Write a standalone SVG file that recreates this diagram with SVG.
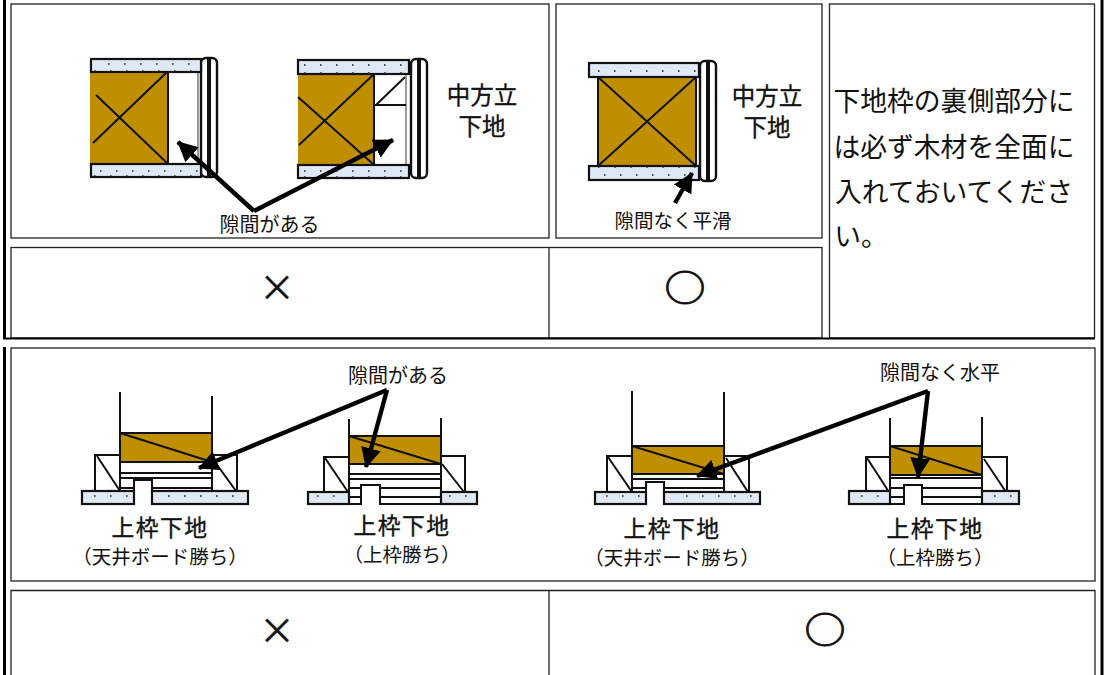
<svg xmlns="http://www.w3.org/2000/svg" width="1105" height="675" viewBox="0 0 1105 675">
<style>
text{font-family:"Noto Sans CJK JP","Liberation Sans",sans-serif;fill:#111;text-anchor:middle}
.cell{fill:#fff;stroke:#222;stroke-width:1.300}
.div{stroke:#222;stroke-width:1.300;fill:none}
.edge{stroke:#000;stroke-width:3;fill:none}
.rule{stroke:#000;stroke-width:2;fill:none}
.board{fill:#dfe9f5;stroke:#111;stroke-width:2.200}
.dots{stroke:#222;stroke-width:1.600;stroke-dasharray:1.600 14.400;fill:none}
.wood{fill:#bf8f00;stroke:#111;stroke-width:2}
.ln{stroke:#111;stroke-width:2;fill:none}
.box{fill:#fff;stroke:#111;stroke-width:2}
.frame{fill:#fff;stroke:#111;stroke-width:2.400}
.stripe{fill:#111}
.arrow{stroke:#000;stroke-width:4.400;fill:none;marker-end:url(#ah)}
.t1{font-size:23.500px;stroke:#111;stroke-width:.35}
.t6{font-size:22.800px;letter-spacing:1.500px;stroke:#111;stroke-width:.35}
.t2{font-size:20px}
.t3{font-size:19.500px}
.t4{font-size:26.800px}
.t5{font-size:36px;stroke:#111;stroke-width:.4}
.t7{font-size:41px;stroke:#111;stroke-width:1}
</style>
<defs>
<marker id="ah" markerUnits="userSpaceOnUse" markerWidth="24" markerHeight="22" refX="19" refY="10" orient="auto"><path d="M0 0L20 10L0 20Z" fill="#000"/></marker>
</defs>
<rect width="1105" height="675" fill="#fff"/>
<g id="table">
<path class="edge" d="M4.500 0V339M4.500 347V675M1102 0V675"/>
<rect class="cell" x="11" y="4" width="538" height="234"/>
<rect class="cell" x="556" y="4" width="266" height="234"/>
<rect class="cell" x="829.500" y="4" width="265" height="334"/>
<rect class="cell" x="11" y="247.500" width="811" height="90.500"/>
<path class="div" d="M549 247.500V338"/>
<path class="rule" d="M3 338.500H1095"/>
<rect class="cell" x="11" y="348" width="1084" height="233"/>
<path class="div" d="M11 676V590.500H1095V676M549 590.500V676"/>
</g>
<g id="mullion-ng-1">
<rect class="frame" x="201" y="58" width="16" height="119" rx="5"/><rect class="stripe" x="207" y="58" width="4" height="119"/>
<rect x="90" y="72" width="78" height="92" fill="#bf8f00"/><path class="ln" d="M168 72V164"/>
<rect x="169" y="72" width="29" height="92" fill="#fff"/><path d="M198 72V164" stroke="#777" stroke-width="1.500"/>
<rect class="board" x="91" y="59" width="110" height="13"/><rect class="board" x="91" y="164" width="110" height="13"/>
<path class="dots" d="M108 64H200M94 71H200M100 171H200M94 176H200"/>
<path class="ln" d="M167 72L93 143M96 95L167 163"/>
</g>
<g id="mullion-ng-2">
<rect class="frame" x="411" y="59" width="16" height="119" rx="5"/><rect class="stripe" x="417" y="59" width="4" height="119"/>
<rect x="298" y="74" width="76" height="91" fill="#bf8f00"/><path class="ln" d="M374 74V165"/>
<path d="M406 74V165" stroke="#777" stroke-width="1.500"/>
<path class="ln" d="M374 105H406M376 105L405 77"/>
<rect class="board" x="298" y="60" width="111" height="14"/><rect class="board" x="298" y="165" width="111" height="13"/>
<path class="dots" d="M304 65H408M304 73H408M304 171H408M304 177H408"/>
<path class="ln" d="M374 74L299 145M298 97L373 164"/>
</g>
<g id="mullion-ok">
<rect class="frame" x="700" y="61" width="16" height="120" rx="5"/><rect class="stripe" x="706" y="61" width="4" height="120"/>
<rect class="wood" x="598" y="77" width="98" height="89"/>
<rect class="board" x="589" y="63" width="110" height="14"/><rect class="board" x="589" y="166" width="110" height="14"/>
<path class="dots" d="M598 71H698M598 167H698M604 175H690"/>
<path class="ln" d="M598 77L696 166M696 77L598 166"/>
</g>
<g id="head-ng-1">
<path class="ln" d="M120 392V433M212 396V433"/>
<rect class="box" x="95" y="455" width="25" height="36"/><rect class="box" x="212" y="455" width="25" height="36"/>
<path class="ln" d="M97 456L120 491M215 462L236 491"/>
<rect class="box" x="120" y="462" width="92" height="29"/>
<path class="ln" d="M120 473H212M120 478H212M120 488H134M152 488H212"/>
<rect class="wood" x="120" y="433" width="92" height="29"/>
<path class="ln" d="M120 433L212 462"/>
<path class="box" d="M134 505V480H152V505"/>
<rect class="board" x="82" y="491" width="52" height="13"/><rect class="board" x="152" y="491" width="96" height="13"/>
<path class="dots" d="M94 496H134M168 496H246"/>
</g>
<g id="head-ng-2">
<path class="ln" d="M349 419V436M441 418V436"/>
<rect class="box" x="324" y="457" width="25" height="35"/><rect class="box" x="441" y="456" width="24" height="36"/>
<path class="ln" d="M325 458L348 492M442 464L464 492"/>
<rect class="box" x="349" y="464" width="92" height="40"/>
<path class="ln" d="M349 474H441M349 479H441M349 488H361M380 488H441M349 497H361M380 497H441"/>
<rect class="wood" x="349" y="436" width="92" height="28"/>
<path class="ln" d="M349 436L441 464"/>
<path class="box" d="M361 505V485H380V505"/>
<rect class="board" x="308" y="492" width="41" height="12"/><rect class="board" x="441" y="492" width="36" height="12"/>
<path class="dots" d="M317 496H349M449 496H477"/>
</g>
<g id="head-ok-1">
<path class="ln" d="M632 391V446M724 392V446"/>
<rect class="box" x="607" y="456" width="25" height="36"/><rect class="box" x="724" y="456" width="25" height="36"/>
<path class="ln" d="M608 457L632 492M726 458L748 492"/>
<rect class="box" x="632" y="474" width="92" height="18"/>
<path class="ln" d="M632 479H724M632 488H646M664 488H724"/>
<rect class="wood" x="632" y="446" width="92" height="28"/>
<path class="ln" d="M632 446L724 474"/>
<path class="box" d="M646 505V482H664V505"/>
<rect class="board" x="595" y="492" width="51" height="12"/><rect class="board" x="664" y="492" width="96" height="12"/>
<path class="dots" d="M606 496H646M686 496H760"/>
</g>
<g id="head-ok-2">
<path class="ln" d="M890 418V446M982 417V446"/>
<rect class="box" x="866" y="457" width="24" height="35"/><rect class="box" x="982" y="457" width="25" height="35"/>
<path class="ln" d="M867 458L889 492M984 459L1006 492"/>
<rect class="box" x="890" y="475" width="92" height="29"/>
<path class="ln" d="M890 478H982M890 488H904M922 488H982M890 497H904M922 497H982"/>
<rect class="wood" x="890" y="446" width="92" height="29"/>
<path class="ln" d="M890 446L982 475"/>
<path class="box" d="M904 505V485H922V505"/>
<rect class="board" x="849" y="491" width="41" height="13"/><rect class="board" x="982" y="491" width="37" height="13"/>
<path class="dots" d="M861 496H890M994 496H1019"/>
</g>
<g id="connectors">
<path class="arrow" d="M254 211L178 142"/>
<path class="arrow" d="M254 211L393 140"/>
<path class="arrow" d="M675 203L692 173"/>
<path class="arrow" d="M387 390L199 468"/>
<path class="arrow" d="M387 390L366 467"/>
<path class="arrow" d="M928 391L697 476"/>
<path class="arrow" d="M928 391L918 477"/>
</g>
<g id="labels">
<text class="t1" x="482" y="104">中方立</text>
<text class="t1" x="482" y="135">下地</text>
<text class="t1" x="767" y="105">中方立</text>
<text class="t1" x="767" y="136">下地</text>
<text class="t2" x="269.500" y="232">隙間がある</text>
<text class="t2" x="673" y="228" style="font-size:19.500px">隙間なく平滑</text>
<text class="t2" x="398" y="383">隙間がある</text>
<text class="t2" x="940" y="380">隙間なく水平</text>
<text class="t4" x="954" y="111">下地枠の裏側部分に</text>
<text class="t4" x="954" y="157">は必ず木材を全面に</text>
<text class="t4" x="954" y="202">入れておいてくださ</text>
<text class="t4" x="861" y="246">い。</text>
<text class="t5" x="277" y="301">×</text>
<text class="t7" transform="translate(685 288) scale(1 .85) translate(-685 -288)" x="685" y="303">○</text>
<text class="t5" x="277" y="644">×</text>
<text class="t7" transform="translate(825 630) scale(1 .85) translate(-825 -630)" x="825" y="645">○</text>
<text class="t6" x="160" y="536">上枠下地</text>
<text class="t3" x="160" y="564">（天井ボード勝ち）</text>
<text class="t6" x="402" y="534">上枠下地</text>
<text class="t3" x="402" y="562">（上枠勝ち）</text>
<text class="t6" x="672" y="537">上枠下地</text>
<text class="t3" x="672" y="565">（天井ボード勝ち）</text>
<text class="t6" x="935" y="537">上枠下地</text>
<text class="t3" x="935" y="565">（上枠勝ち）</text>
</g>
</svg>
